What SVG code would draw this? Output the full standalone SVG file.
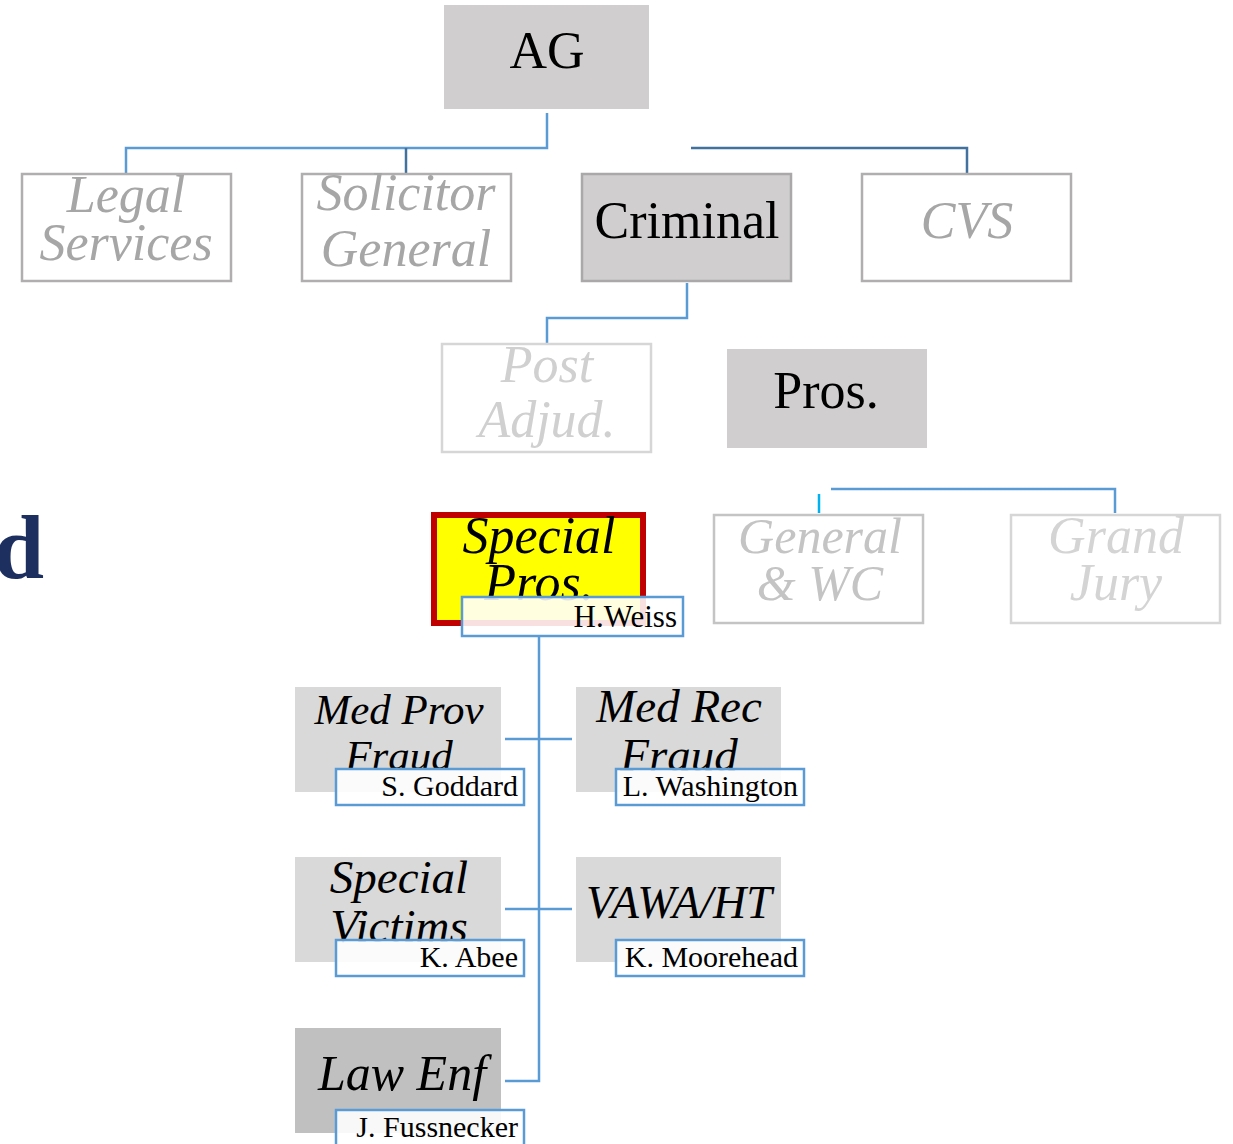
<svg xmlns="http://www.w3.org/2000/svg" width="1233" height="1144" viewBox="0 0 1233 1144">
<style>
text{font-family:"Liberation Serif","Times New Roman",serif;text-anchor:middle}
.big{font-size:52px}
.it{font-style:italic}
.mid{font-size:43px}
.nm{font-size:30px;text-anchor:end;fill:#000}
.ln{fill:none;stroke:#5b9bd5;stroke-width:2.5}
.ld{fill:none;stroke:#41719c;stroke-width:2.5}
.nb{fill:#fff;fill-opacity:0.88;stroke:#5b9bd5;stroke-width:2.5}
</style>
<rect width="1233" height="1144" fill="#fff"/>
<g id="connectors">
<path class="ln" d="M547,113 V148 H126 V173"/>
<path class="ld" d="M406,148 V173"/>
<path class="ld" d="M691,148 H967 V173"/>
<path class="ln" d="M687,283 V318 H547 V343"/>
<path fill="none" stroke="#00b0f0" stroke-width="2.5" d="M819,494 V513"/>
<path class="ln" d="M831,489 H1115 V513"/>
<path class="ln" d="M539,636 V1081 H505"/>
<path class="ln" d="M505,739 H572"/>
<path class="ln" d="M505,909 H572"/>
</g>
<g id="ag"><rect x="444" y="5" width="205" height="104" fill="#d0cecf"/><text class="big" x="547" y="68">AG</text></g>
<g id="legal"><rect x="22" y="174" width="209" height="107" fill="#fff" stroke="#b0aeae" stroke-width="2.5"/><text class="big it" fill="#a6a6a6" x="126" y="212">Legal</text><text class="big it" fill="#a6a6a6" x="126" y="260">Services</text></g>
<g id="solicitor"><rect x="302" y="174" width="209" height="107" fill="#fff" stroke="#b0aeae" stroke-width="2.5"/><text class="big it" fill="#a6a6a6" x="406" y="210">Solicitor</text><text class="big it" fill="#a6a6a6" x="406" y="266">General</text></g>
<g id="criminal"><rect x="582" y="174" width="209" height="107" fill="#d0cecf" stroke="#aaa8a8" stroke-width="2.5"/><text class="big" x="687" y="238">Criminal</text></g>
<g id="cvs"><rect x="862" y="174" width="209" height="107" fill="#fff" stroke="#b0aeae" stroke-width="2.5"/><text class="big it" fill="#a6a6a6" x="967" y="238">CVS</text></g>
<g id="postadjud"><rect x="442" y="344" width="209" height="108" fill="#fff" stroke="#d6d6d6" stroke-width="2.5"/><text class="big it" fill="#d0d0d0" x="547" y="382">Post</text><text class="big it" fill="#d0d0d0" x="547" y="437">Adjud.</text></g>
<g id="pros"><rect x="727" y="349" width="200" height="99" fill="#d0cecf"/><text class="big" x="826" y="408">Pros.</text></g>
<g id="title-fragment"><text x="-6" y="578" style="text-anchor:start;font-size:90px;font-weight:bold" fill="#1c2f5e">d</text></g>
<g id="specialpros"><rect x="434" y="515" width="209" height="108" fill="#ffff00" stroke="#c00000" stroke-width="6"/><text class="big it" x="539" y="553">Special</text><text class="big it" x="539" y="600">Pros.</text><rect class="nb" x="462" y="597" width="221" height="39"/><text class="nm" x="677" y="627" style="font-size:31px">H.Weiss</text></g>
<g id="general"><rect x="714" y="515" width="209" height="108" fill="#fff" stroke="#c4c4c4" stroke-width="2.5"/><text class="it" style="font-size:50px" fill="#c4c4c4" x="820" y="553">General</text><text class="it" style="font-size:50px" fill="#c4c4c4" x="820" y="600">&amp; WC</text></g>
<g id="grandjury"><rect x="1011" y="515" width="209" height="108" fill="#fff" stroke="#d6d6d6" stroke-width="2.5"/><text class="big it" fill="#d4d4d4" x="1116" y="553">Grand</text><text class="big it" fill="#d4d4d4" x="1116" y="600">Jury</text></g>
<g id="medprov"><rect x="295" y="687" width="206" height="105" fill="#d9d9d9"/><text class="mid it" x="399" y="724">Med Prov</text><text class="mid it" x="399" y="770">Fraud</text><rect class="nb" x="336" y="769" width="188" height="36"/><text class="nm" x="518" y="796">S. Goddard</text></g>
<g id="medrec"><rect x="576" y="687" width="205" height="105" fill="#d9d9d9"/><text class="it" style="font-size:47px" x="679" y="722">Med Rec</text><text class="it" style="font-size:47px" x="679" y="771">Fraud</text><rect class="nb" x="616" y="769" width="188" height="36"/><text class="nm" x="798" y="796">L. Washington</text></g>
<g id="specialvictims"><rect x="295" y="857" width="206" height="105" fill="#d9d9d9"/><text class="it" style="font-size:47px" x="399" y="893">Special</text><text class="it" style="font-size:47px" x="399" y="942">Victims</text><rect class="nb" x="336" y="940" width="188" height="36"/><text class="nm" x="518" y="967">K. Abee</text></g>
<g id="vawa"><rect x="576" y="857" width="205" height="105" fill="#d9d9d9"/><text class="it" style="font-size:46px" x="679" y="918">VAWA/HT</text><rect class="nb" x="616" y="940" width="188" height="36"/><text class="nm" x="798" y="967">K. Moorehead</text></g>
<g id="lawenf"><rect x="295" y="1028" width="206" height="105" fill="#c0c0c0"/><text class="it" style="font-size:50px" x="402" y="1090">Law Enf</text><rect class="nb" x="336" y="1110" width="188" height="40"/><text class="nm" x="518" y="1137">J. Fussnecker</text></g>
</svg>
